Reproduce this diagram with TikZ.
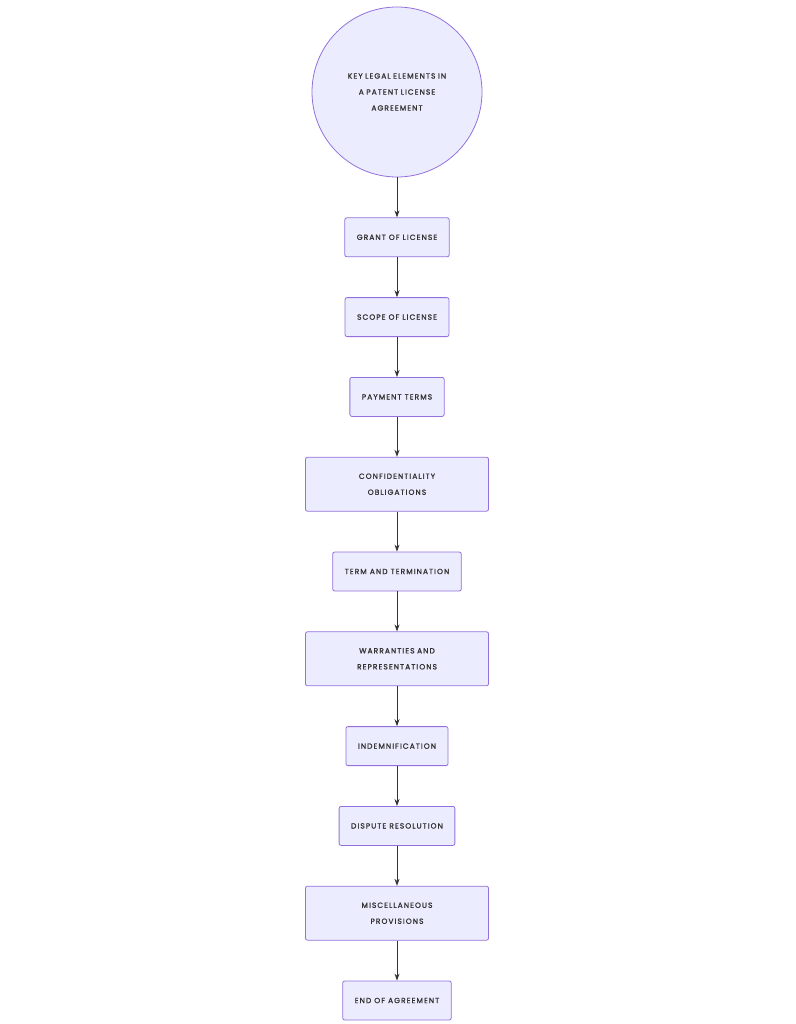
\documentclass[tikz,border=0pt]{standalone}
\usepackage{fontspec}
\usetikzlibrary{positioning, arrows.meta}
\newfontfamily\lblfont[LetterSpace=14,FakeBold=1.2]{Poppins}
\definecolor{boxfill}{HTML}{ECECFF}
\definecolor{boxline}{HTML}{9370DB}
\definecolor{ink}{HTML}{333333}
\begin{document}
\begin{tikzpicture}[x=1pt, y=1pt, node distance=40pt,
  every node/.style={font=\lblfont\fontsize{7.5}{16}\selectfont, text=ink},
  box/.style={draw=boxline, fill=boxfill, rounded corners=2pt, line width=0.8pt,
    minimum height=39pt, inner xsep=12pt, align=center},
  wide/.style={box, text width=159pt, minimum height=54pt},
  flow/.style={-{Stealth[length=7pt,width=5pt]}, draw=ink, line width=0.8pt}]
\useasboundingbox (0,0) rectangle (795,-1024);
\node[draw=boxline, fill=boxfill, circle, line width=0.8pt, minimum size=170pt,
  text width=150pt, align=center] (key) at (397,-92)
  {KEY LEGAL ELEMENTS IN\\A PATENT LICENSE\\AGREEMENT};
\node[box]  (grant)   [below = of key]     {GRANT OF LICENSE};
\node[box]  (scope)   [below = of grant]   {SCOPE OF LICENSE};
\node[box]  (payment) [below = of scope]   {PAYMENT TERMS};
\node[wide] (conf)    [below = of payment] {CONFIDENTIALITY\\OBLIGATIONS};
\node[box]  (term)    [below = of conf]    {TERM AND TERMINATION};
\node[wide] (warr)    [below = of term]    {WARRANTIES AND\\REPRESENTATIONS};
\node[box]  (indem)   [below = of warr]    {INDEMNIFICATION};
\node[box]  (dispute) [below = of indem]   {DISPUTE RESOLUTION};
\node[wide] (misc)    [below = of dispute] {MISCELLANEOUS\\PROVISIONS};
\node[box]  (end)     [below = of misc]    {END OF AGREEMENT};
\foreach \a/\b in {key/grant, grant/scope, scope/payment, payment/conf,
  conf/term, term/warr, warr/indem, indem/dispute, dispute/misc, misc/end}
  \draw[flow] (\a) -- (\b);
\end{tikzpicture}
\end{document}
